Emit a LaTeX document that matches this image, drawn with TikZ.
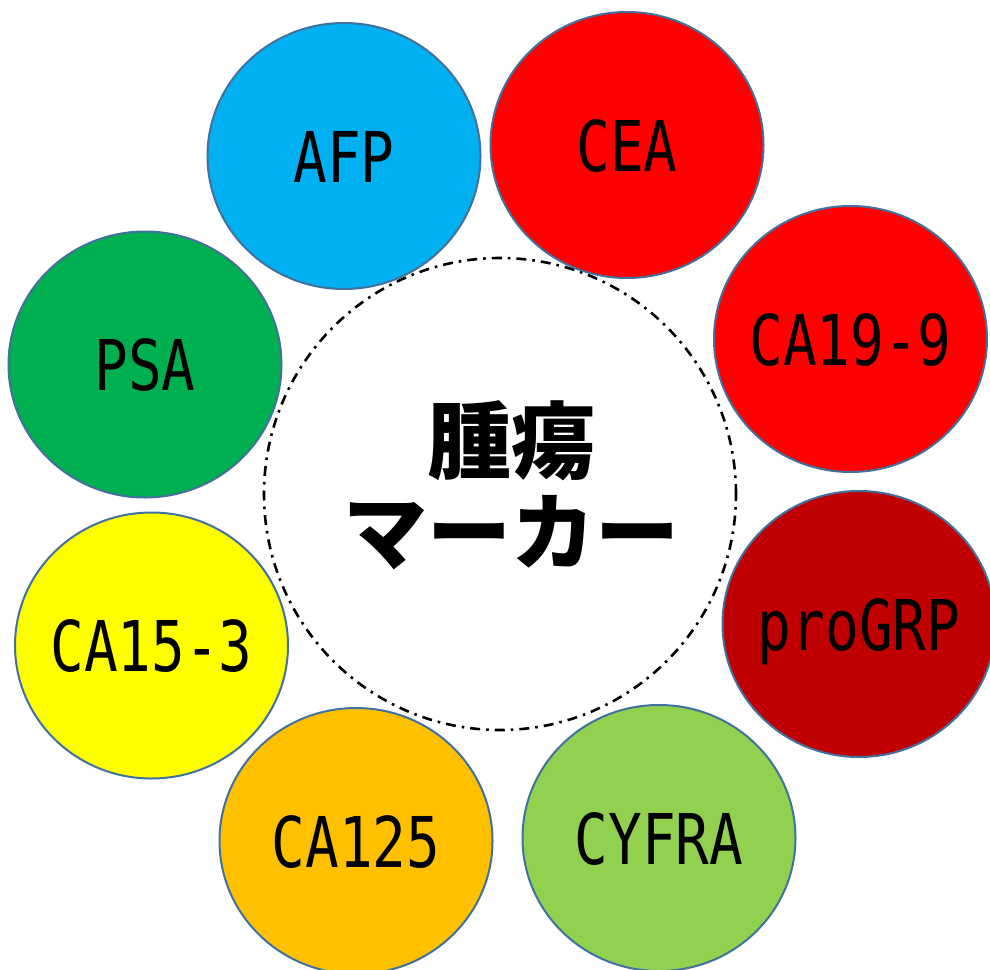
\documentclass[tikz,border=0pt]{standalone}
\usepackage{fontspec}
\usetikzlibrary{shapes.geometric}
\newfontfamily\jpfont{Noto Sans CJK JP}
\newfontfamily\labfont[FakeStretch=0.8]{DejaVu Sans Mono}
\definecolor{edgeblue}{HTML}{41719C}
\definecolor{cafp}{HTML}{00B0F0}
\definecolor{ccea}{HTML}{FF0000}
\definecolor{cca199}{HTML}{FF0000}
\definecolor{cprogrp}{HTML}{C00000}
\definecolor{ccyfra}{HTML}{92D050}
\definecolor{cca125}{HTML}{FFC000}
\definecolor{cca153}{HTML}{FFFF00}
\definecolor{cpsa}{HTML}{00B050}
\tikzset{
  bubble/.style={ellipse, draw=edgeblue, line width=2pt, inner sep=0pt,
    minimum width=273pt, minimum height=266pt},
  lab/.style={inner sep=0pt, text height=52pt, text depth=0pt,
    font=\labfont\fontsize{70}{70}\selectfont},
  ring/.style={circle, draw=black, line width=2.6pt, inner sep=0pt,
    minimum size=472pt, dash pattern=on 10pt off 6pt on 2.6pt off 6pt},
  title/.style={align=center, inner sep=0pt,
    font=\jpfont\bfseries\fontsize{84}{91}\selectfont}
}
\begin{document}
\begin{tikzpicture}[x=1pt,y=-1pt]
\useasboundingbox (0,0) rectangle (990,969);
\node[ring] (ring) at (500,494) {};
\node[bubble, fill=cafp] (afp) at (344,156) {};
\node[bubble, fill=ccea] (cea) at (627,145) {};
\node[bubble, fill=cca199] (ca199) at (850.5,339) {};
\node[bubble, fill=cprogrp] (progrp) at (859,624) {};
\node[bubble, fill=ccyfra] (cyfra) at (659,838) {};
\node[bubble, fill=cca125] (ca125) at (356,841) {};
\node[bubble, fill=cca153] (ca153) at (151.5,645.5) {};
\node[bubble, fill=cpsa] (psa) at (145,364.5) {};
\node[lab] (tafp) at (afp) {AFP};
\node[lab] (tcea) at (cea) {CEA};
\node[lab] (tca199) at (ca199) {CA19-9};
\node[lab] (tprogrp) at (progrp) {proGRP};
\node[lab] (tcyfra) at (cyfra) {CYFRA};
\node[lab] (tca125) at (ca125) {CA125};
\node[lab] (tca153) at (ca153) {CA15-3};
\node[lab] (tpsa) at (psa) {PSA};
\node[title] (center) at (511,485) {腫瘍\\マーカー};
\end{tikzpicture}
\end{document}
